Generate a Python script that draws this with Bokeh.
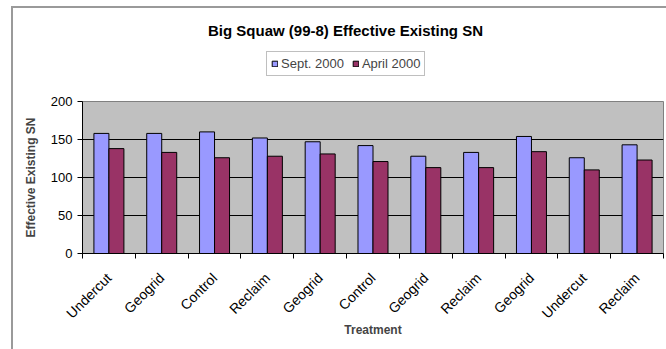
import numpy as np
from bokeh.plotting import figure
from bokeh.layouts import column
from bokeh.models import (ColumnDataSource, FixedTicker, Range1d, Legend,
                          LegendItem, Label)
from bokeh.embed import file_html
from bokeh.resources import INLINE

title_text = "Big Squaw (99-8) Effective Existing SN"
series_names = ["Sept. 2000", "April 2000"]
series_colors = ["#9999FF", "#993366"]
treatments = ["Undercut", "Geogrid", "Control", "Reclaim", "Geogrid", "Control",
              "Geogrid", "Reclaim", "Geogrid", "Undercut", "Reclaim"]
sept_2000 = [158, 158, 160, 152, 147, 142, 128, 133, 154, 126, 143]
april_2000 = [138, 133, 126, 128, 131, 121, 113, 113, 134, 110, 123]
y_ticks = [0, 50, 100, 150, 200]

FONT = "Liberation Sans"
n = len(treatments)
centers = [i + 0.5 for i in range(n)]
bw = 0.284

W = 653          # inner width (after css margin + border)
H_HEAD = 78
H_CHART = 263
BL, BR = 69, 3   # left / right borders (frames of both figures align)
FW = W - BL - BR

src = ColumnDataSource(dict(
    xs=[c - bw / 2 for c in centers],
    xa=[c + bw / 2 for c in centers],
    sept=sept_2000,
    april=april_2000,
))

# ---------------- header (title + legend) ----------------
h = figure(width=W, height=H_HEAD, output_backend="svg", toolbar_location=None,
           x_range=Range1d(0, FW), y_range=Range1d(0, H_HEAD),
           title_location=None,
           min_border_left=BL, min_border_right=BR, min_border_top=0,
           min_border_bottom=0)
h.axis.visible = False
h.grid.grid_line_color = None
h.outline_line_color = None
h.background_fill_color = "white"
h.border_fill_color = "white"

h.add_layout(Label(x=263, y=56, text=title_text, text_font=FONT,
                   text_font_size="15px", text_font_style="bold",
                   text_align="center", text_baseline="middle",
                   text_color="black"))

# hidden legend proxies (same series, not drawn in the header)
proxies = [h.vbar(x="xs", top=col, width=bw, source=src, fill_color=c,
                  line_color="black", line_width=1, visible=False)
           for col, c in zip(["sept", "april"], series_colors)]
legend = Legend(items=[LegendItem(label=nm, renderers=[r])
                       for nm, r in zip(series_names, proxies)],
                orientation="horizontal", location=(184, 10),
                label_text_font=FONT, label_text_font_size="13px",
                glyph_width=7, glyph_height=7, label_standoff=3, spacing=8,
                padding=4, margin=0, border_line_color="#808080",
                border_line_width=1, background_fill_color="white",
                label_height=13, inactive_fill_alpha=0.0,
                click_policy="none")
h.add_layout(legend, "center")

# ---------------- chart ----------------
p = figure(width=W, height=H_CHART, output_backend="svg", toolbar_location=None,
           x_range=Range1d(0, n), y_range=Range1d(0, 200),
           title_location=None,
           min_border_left=BL, min_border_right=BR, min_border_top=15,
           min_border_bottom=96)
p.background_fill_color = "#C0C0C0"
p.border_fill_color = "white"
p.outline_line_color = "#808080"
p.outline_line_width = 1

p.vbar(x="xs", top="sept", width=bw, source=src, fill_color=series_colors[0],
       line_color="black", line_width=1)
p.vbar(x="xa", top="april", width=bw, source=src, fill_color=series_colors[1],
       line_color="black", line_width=1)

xax = p.xaxis[0]
xax.ticker = FixedTicker(ticks=centers, minor_ticks=list(range(n + 1)))
xax.major_label_overrides = {c: t for c, t in zip(centers, treatments)}
xax.major_label_orientation = np.pi / 4
xax.major_tick_line_color = None
xax.major_tick_out = 0
xax.major_tick_in = 0
xax.minor_tick_out = 5
xax.minor_tick_in = 0
xax.minor_tick_line_color = "black"
xax.axis_line_color = "black"
xax.major_label_text_font = FONT
xax.major_label_text_font_size = "14px"
xax.major_label_text_color = "black"
xax.major_label_standoff = 17
xax.axis_label = "Treatment"
xax.axis_label_text_font = FONT
xax.axis_label_text_font_style = "bold"
xax.axis_label_text_font_size = "12px"
xax.axis_label_standoff = -7

yax = p.yaxis[0]
yax.ticker = FixedTicker(ticks=y_ticks)
yax.minor_tick_line_color = None
yax.major_tick_out = 5
yax.major_tick_in = 0
yax.axis_line_color = "black"
yax.major_label_text_font = FONT
yax.major_label_text_font_size = "13px"
yax.major_label_text_color = "black"
yax.major_label_standoff = 5
yax.axis_label = "Effective Existing SN"
yax.axis_label_text_font = FONT
yax.axis_label_text_font_style = "bold"
yax.axis_label_text_font_size = "12px"
yax.axis_label_standoff = 10

p.xgrid.grid_line_color = None
p.ygrid.ticker = FixedTicker(ticks=y_ticks)
p.ygrid.grid_line_color = "black"
p.ygrid.grid_line_width = 1

layout = column(h, p, spacing=0,
                styles={"margin-left": "11px", "margin-top": "6px",
                        "border-left": "2px solid #9a9a9a",
                        "border-top": "2px solid #9a9a9a"})

open("out.html", "w").write(file_html(layout, INLINE))
